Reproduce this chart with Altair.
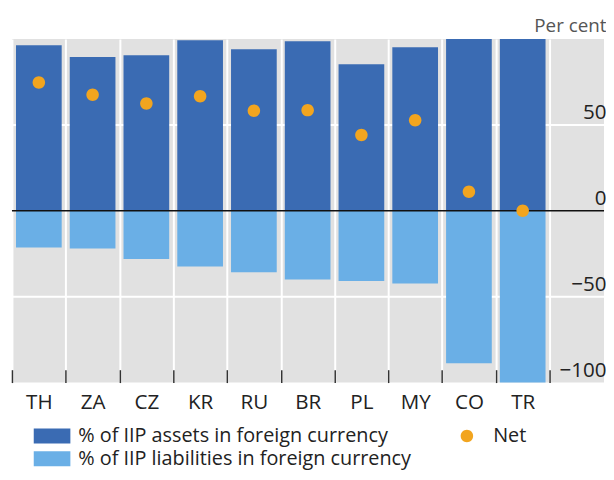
import altair as alt
import pandas as pd

categories = ["TH", "ZA", "CZ", "KR", "RU", "BR", "PL", "MY", "CO", "TR"]
assets = [96.4, 89.5, 90.6, 99.3, 94.1, 98.7, 85.3, 95.2, 100, 100]
liabilities = [-21.4, -22.0, -28.1, -32.5, -35.8, -40.0, -40.9, -42.4, -88.8, -100]
net = [74.7, 67.6, 62.5, 66.7, 58.3, 58.6, 44.1, 52.7, 11.1, 0]
y_ticks = [-100, -50, 0, 50]
grid_lines = [-50, 50]
zero_line = [0]

S_A = "% of IIP assets in foreign currency"
S_L = "% of IIP liabilities in foreign currency"
S_N = "Net"
SERIES = [S_A, S_N, S_L]

DARK = "#3a6bb3"
LIGHT = "#6aafe6"
ORANGE = "#f2a51f"

bars_df = pd.DataFrame({
    "country": categories * 2,
    "value": assets + liabilities,
    "series": [S_A] * len(categories) + [S_L] * len(categories),
})
dots_df = pd.DataFrame({"country": categories, "value": net, "series": [S_N] * len(categories)})
zero_df = pd.DataFrame({"value": zero_line})
grid_df = pd.DataFrame({"value": grid_lines})

# symbol size 400 -> unit scale of 10 px
RECT = "M-1.85,-0.75H1.85V0.75H-1.85Z"
DOT = "M-0.63,0A0.63,0.63 0 1,0 0.63,0A0.63,0.63 0 1,0 -0.63,0Z"
SYM = 400
FS = 20.8

legend = alt.Legend(
    title=None, orient="none", legendX=30.5, legendY=391, columns=2,
    direction="horizontal", columnPadding=46, rowPadding=3, symbolSize=SYM,
    values=SERIES, symbolStrokeWidth=0, labelFontSize=20, labelColor="#222",
    labelOffset=16.5, labelLimit=0,
)
color = alt.Color(
    "series:N",
    scale=alt.Scale(domain=SERIES, range=[DARK, ORANGE, LIGHT]),
    legend=legend,
)
shape = alt.Shape(
    "series:N",
    scale=alt.Scale(domain=SERIES, range=[RECT, DOT, RECT]),
    legend=legend,
)

x = alt.X(
    "country:N", sort=categories,
    scale=alt.Scale(domain=categories, range=[0, 543], paddingInner=0, paddingOuter=0),
    axis=alt.Axis(
        title=None, tickBand="extent", grid=True, gridColor="white", gridWidth=2,
        domain=False, offset=-13, tickSize=13, tickColor="#333", tickWidth=1.5,
        labelPadding=10, labelFontSize=FS, labelColor="#222", labelAngle=0,
    ),
)
y_scale = alt.Scale(domain=[-100, 100], nice=False)
y_axis = alt.Axis(
    orient="right", values=y_ticks, format="d", grid=False,
    ticks=False, domain=False, labelAlign="right", labelPadding=2,
    labelBaseline="alphabetic", labelOffset=-6, labelFontSize=FS, labelColor="#222",
    labelFlush=False, labelOverlap=False, labelBound=False,
    title="Per cent", titleAngle=0, titleX=2, titleY=-8, titleAlign="right",
    titleBaseline="alphabetic", titleFontSize=19, titleFontWeight="normal",
    titleColor="#555",
)
y = alt.Y("value:Q", scale=y_scale, axis=y_axis)

grid = alt.Chart(grid_df).mark_rule(color="white", strokeWidth=2).encode(y=y)
bars = alt.Chart(bars_df).mark_bar(width={"band": 0.85}).encode(x=x, y=y, color=color)
rule = alt.Chart(zero_df).mark_rule(color="#111", strokeWidth=1.5).encode(y=y)
dots = alt.Chart(dots_df).mark_point(size=SYM, filled=True, opacity=1).encode(
    x=x, y=y, color=color, shape=shape
)

chart = alt.layer(grid, bars, rule, dots).properties(
    width=598, height=347,
    padding={"left": 4, "top": 29, "right": 2, "bottom": 87},
    autosize="none",
).configure(font="Open Sans").configure_view(fill="#e1e1e1", strokeWidth=0)

chart.save("out.html", embed_options={"renderer": "svg", "actions": False})
